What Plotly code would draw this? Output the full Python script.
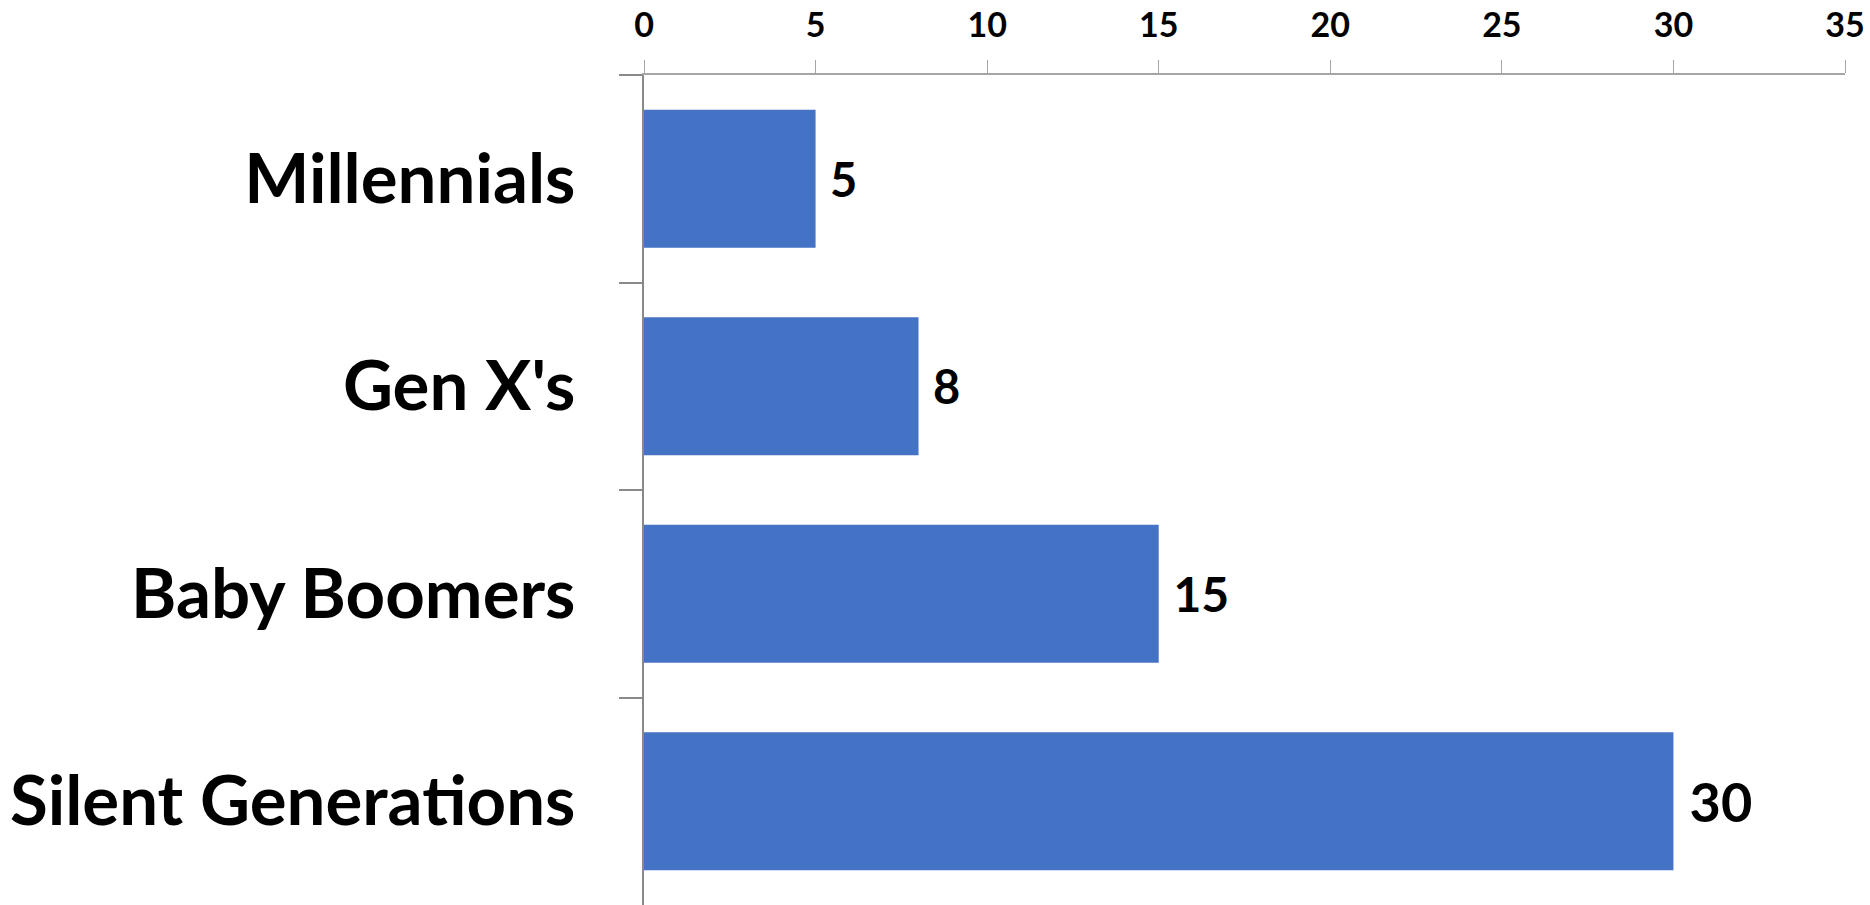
import plotly.graph_objects as go

categories = ["Millennials", "Gen X's", "Baby Boomers", "Silent Generations"]
values = [5, 8, 15, 30]
x_ticks = [0, 5, 10, 15, 20, 25, 30, 35]
label_sizes = [47, 47, 48, 54]

fig = go.Figure(
    go.Bar(
        x=values,
        y=categories,
        orientation="h",
        marker=dict(color="#4472C4", line=dict(width=0)),
        width=0.665,
        text=values,
        texttemplate="\u00a0%{x}",
        textposition="outside",
        cliponaxis=False,
        textfont=dict(family="Lato", size=label_sizes, color="#000000", weight="bold"),
    )
)

fig.update_layout(
    width=1870,
    height=905,
    margin=dict(l=644, r=25, t=75, b=0, pad=0),
    paper_bgcolor="white",
    plot_bgcolor="white",
    showlegend=False,
    font=dict(family="Lato", color="#000000"),
)

fig.update_xaxes(
    side="top",
    range=[0, 35],
    tickvals=x_ticks,
    ticktext=[str(v) for v in x_ticks],
    showgrid=False,
    zeroline=False,
    showline=True,
    linecolor="#A6A6A6",
    linewidth=2,
    ticks="outside",
    ticklen=13,
    tickwidth=1,
    tickcolor="#A6A6A6",
    tickfont=dict(family="Lato", size=34, color="#000000", weight="bold"),
    ticklabelstandoff=9,
    ticklabeloverflow="allow",
    automargin=False,
)

fig.update_yaxes(
    autorange="reversed",
    showgrid=False,
    zeroline=False,
    showline=True,
    linecolor="#898989",
    linewidth=1.5,
    ticks="outside",
    tickson="boundaries",
    ticklen=23,
    tickwidth=1.5,
    tickcolor="#898989",
    tickfont=dict(family="Lato", size=69, color="#000000", weight="bold"),
    ticklabelstandoff=53,
    ticklabeloverflow="allow",
    automargin=False,
)

fig.write_html(
    "out.html",
    config={"displayModeBar": False},
    post_script="document.body.style.margin='0';document.body.style.overflow='hidden';",
)
